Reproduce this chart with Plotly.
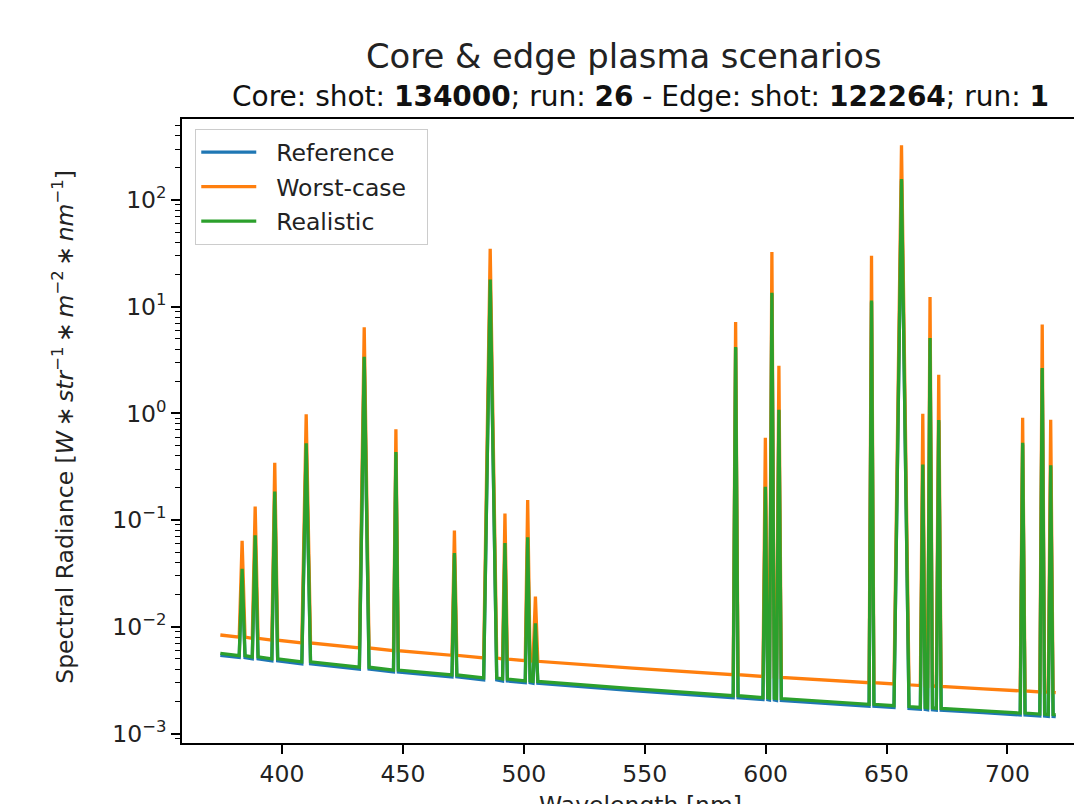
import plotly.graph_objects as go

# ---- data ----
wavelength_nm = [
    374.5,
    382.3, 383.5, 384.7,
    387.7, 388.9, 390.1,
    395.8, 397.0, 398.2,
    408.2, 410.0, 411.8,
    422.0,
    432.0, 434.0, 436.0,
    446.1, 447.1, 448.1,
    460.0,
    470.3, 471.3, 472.3,
    483.4, 486.1, 488.8,
    491.2, 492.2, 493.2,
    500.6, 501.6, 502.6,
    503.8, 504.8, 505.8,
    545.0,
    586.6, 587.6, 588.6,
    598.9, 599.9, 600.9,
    601.6, 602.6, 603.6,
    604.5, 605.5, 606.5,
    625.0,
    642.8, 643.8, 644.8,
    653.1, 656.2, 659.3,
    664.0, 665.0, 666.0,
    667.0, 668.0, 669.0,
    670.6, 671.6, 672.6,
    690.0,
    705.3, 706.3, 707.3,
    713.4, 714.4, 715.4,
    716.9, 717.9, 718.9,
    720.0,
]

reference = [
    0.005412,
    0.005157, 0.034, 0.005157,
    0.005013, 0.070, 0.005013,
    0.004807, 0.180, 0.004807,
    0.004502, 0.51, 0.004502,
    0.004246,
    0.004012, 3.3, 0.004012,
    0.003777, 0.42, 0.003777,
    0.003565,
    0.003394, 0.047, 0.003394,
    0.003187, 17.5, 0.003187,
    0.003108, 0.059, 0.003108,
    0.002990, 0.067, 0.002990,
    0.002952, 0.0105, 0.002952,
    0.002528,
    0.002169, 4.1, 0.002169,
    0.002079, 0.199, 0.002079,
    0.002060, 13.1, 0.002060,
    0.002040, 1.05, 0.002040,
    0.001913,
    0.001802, 11.0, 0.001802,
    0.001750, 152.0, 0.001716,
    0.001687, 0.32, 0.001687,
    0.001671, 4.9, 0.001671,
    0.001653, 0.84, 0.001653,
    0.001566,
    0.001493, 0.51, 0.001493,
    0.001459, 2.58, 0.001459,
    0.001445, 0.317, 0.001445,
    0.001436,
]

worst_case = [
    0.008376,
    0.008006, 0.064, 0.008006,
    0.007794, 0.134, 0.007794,
    0.007494, 0.345, 0.007494,
    0.007050, 0.98, 0.007050,
    0.006675,
    0.006327, 6.4, 0.006327,
    0.005979, 0.71, 0.005979,
    0.005668,
    0.005410, 0.080, 0.005410,
    0.005102, 34.8, 0.005102,
    0.004983, 0.115, 0.004983,
    0.004807, 0.154, 0.004807,
    0.004749, 0.0192, 0.004749,
    0.004105,
    0.003558, 7.2, 0.003558,
    0.003421, 0.59, 0.003421,
    0.003392, 32.5, 0.003392,
    0.003361, 2.8, 0.003361,
    0.003166,
    0.002992, 30.0, 0.002992,
    0.002911, 326.0, 0.002859,
    0.002813, 0.99, 0.002813,
    0.002789, 12.3, 0.002789,
    0.002761, 2.3, 0.002761,
    0.002623,
    0.002509, 0.91, 0.002509,
    0.002455, 6.8, 0.002455,
    0.002432, 0.87, 0.002432,
    0.002419,
]

realistic = [
    0.005637,
    0.005372, 0.035, 0.005372,
    0.005222, 0.072, 0.005222,
    0.005007, 0.185, 0.005007,
    0.004690, 0.525, 0.004690,
    0.004423,
    0.004179, 3.4, 0.004179,
    0.003934, 0.435, 0.003934,
    0.003714,
    0.003535, 0.049, 0.003535,
    0.003320, 18.0, 0.003320,
    0.003237, 0.061, 0.003237,
    0.003115, 0.069, 0.003115,
    0.003075, 0.0108, 0.003075,
    0.002633,
    0.002259, 4.2, 0.002259,
    0.002166, 0.205, 0.002166,
    0.002146, 13.5, 0.002146,
    0.002125, 1.08, 0.002125,
    0.001993,
    0.001877, 11.4, 0.001877,
    0.001823, 157.0, 0.001788,
    0.001757, 0.331, 0.001757,
    0.001741, 5.08, 0.001741,
    0.001722, 0.866, 0.001722,
    0.001631,
    0.001555, 0.53, 0.001555,
    0.001520, 2.66, 0.001520,
    0.001505, 0.327, 0.001505,
    0.001496,
]

series_names = ["Reference", "Worst-case", "Realistic"]
series_colors = ["#1f77b4", "#ff7f0e", "#2ca02c"]

x_tick_vals = [400, 450, 500, 550, 600, 650, 700]
x_tick_text = ["400", "450", "500", "550", "600", "650", "700"]
y_tick_vals = [1e-3, 1e-2, 1e-1, 1e0, 1e1, 1e2]
y_tick_text = ["10<sup>−3</sup>", "10<sup>−2</sup>", "10<sup>−1</sup>",
               "10<sup>0</sup>", "10<sup>1</sup>", "10<sup>2</sup>"]

title_text = "Core & edge plasma scenarios"
subtitle_text = ("Core: shot: <b>134000</b>; run: <b>26</b> - "
                 "Edge: shot: <b>122264</b>; run: <b>1</b>")
x_title = "Wavelength [nm]"
TS = "\u2009"
y_title = ("Spectral Radiance [<i>W</i>" + TS + "∗" + TS + "<i>str</i><sup>−1</sup>"
           + TS + "∗" + TS + "<i>m</i><sup>−2</sup>" + TS + "∗" + TS
           + "<i>nm</i><sup>−1</sup>]")

# ---- figure ----
FONT = "DejaVu Sans"
NB = "\u00a0"
fig = go.Figure()
legend_labels = [NB * 2 + n for n in series_names]
legend_labels[1] = legend_labels[1] + NB * 2
for label, color, values, grp in zip(legend_labels, series_colors,
                                     [reference, worst_case, realistic],
                                     ["g1", "g2", "g3"]):
    fig.add_trace(go.Scatter(
        x=wavelength_nm, y=values, mode="lines", name=label,
        line=dict(color=color, width=3.3), legendgroup=grp,
    ))

# the page body adds an 8 px offset; the figure is sized to fill the rest
fig.update_layout(
    width=1074, height=796,
    margin=dict(l=174, r=0, t=111, b=61),
    paper_bgcolor="white", plot_bgcolor="white",
    font=dict(family=FONT, size=23.5, color="black"),
    showlegend=True,
    legend=dict(
        x=0.0144, y=0.984, xanchor="left", yanchor="top",
        bgcolor="rgba(255,255,255,0.8)", bordercolor="#cccccc", borderwidth=1.3,
        font=dict(family=FONT, size=23.5, color="#222222"),
        tracegroupgap=1, itemwidth=55,
    ),
)

fig.update_xaxes(
    range=[358.64, 730.85],
    tickmode="array", tickvals=x_tick_vals, ticktext=x_tick_text,
    ticks="outside", ticklen=9, tickwidth=1.5, tickcolor="black",
    showline=True, linecolor="black", linewidth=1.6, mirror=True,
    showgrid=False, zeroline=False,
    tickfont=dict(family=FONT, size=23.5, color="#222222"),
)
fig.update_yaxes(
    type="log", range=[-3.089, 2.759],
    tickmode="array", tickvals=y_tick_vals, ticktext=y_tick_text,
    ticks="outside", ticklen=9, tickwidth=1.5, tickcolor="black",
    minor=dict(ticks="outside", ticklen=5, tickwidth=1.2, tickcolor="black",
               dtick="D1", showgrid=False),
    showline=True, linecolor="black", linewidth=1.6, mirror=False,
    showgrid=False, zeroline=False,
    tickfont=dict(family=FONT, size=23.5, color="#222222"),
)

fig.add_annotation(text=title_text, xref="paper", yref="paper",
                   x=0.4911, y=1.0997, xanchor="center", yanchor="middle",
                   showarrow=False, font=dict(family=FONT, size=33.8, color="#222222"))
fig.add_annotation(text=subtitle_text, xref="paper", yref="paper",
                   x=0.5089, y=1.0359, xanchor="center", yanchor="middle",
                   showarrow=False, font=dict(family=FONT, size=28, color="#111111"))
fig.add_annotation(text=y_title, xref="paper", yref="paper",
                   x=-0.131, y=0.507, xanchor="center", yanchor="middle",
                   textangle=-90, showarrow=False,
                   font=dict(family=FONT, size=23.5, color="#222222"))
fig.add_annotation(text=x_title, xref="paper", yref="paper",
                   x=0.5089, y=-0.0994, xanchor="center", yanchor="middle",
                   showarrow=False, font=dict(family=FONT, size=23.5, color="#222222"))

fig.write_html("out.html")
